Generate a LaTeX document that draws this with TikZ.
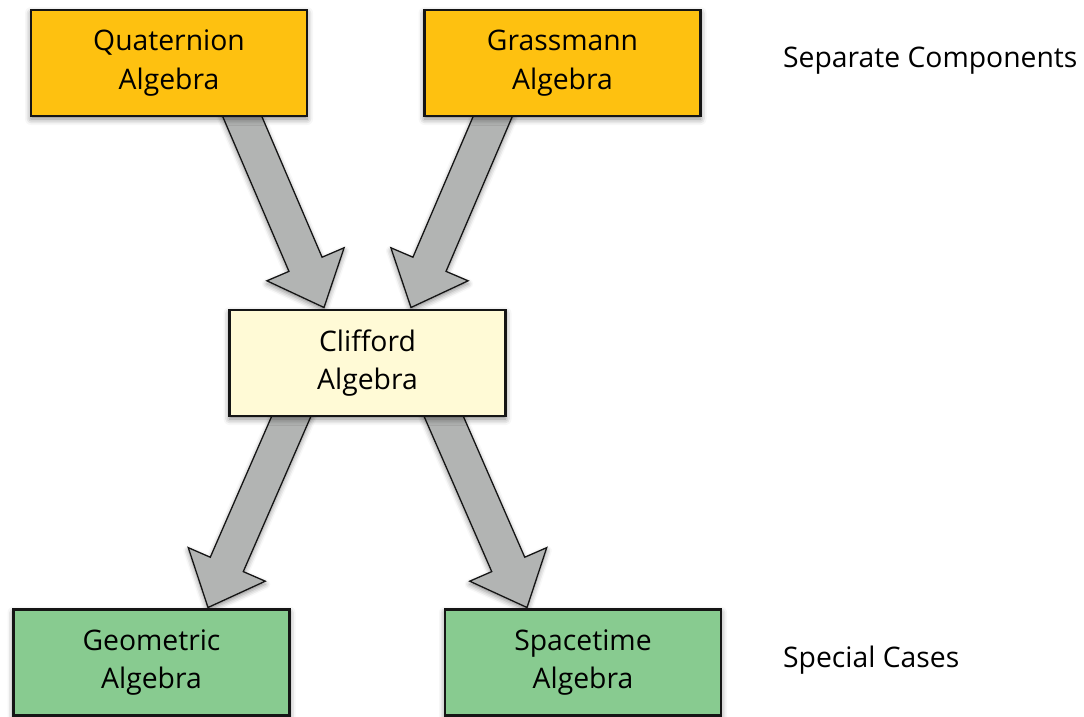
\documentclass[tikz,border=0pt]{standalone}
\usepackage{fontspec}
\setmainfont{Open Sans}
\usetikzlibrary{calc,shadows.blur}
\definecolor{boxorange}{HTML}{FEC110}
\definecolor{boxcream}{HTML}{FFFAD6}
\definecolor{boxgreen}{HTML}{88CB90}
\definecolor{arrgray}{HTML}{B2B4B3}
\definecolor{edge}{HTML}{151515}
\tikzset{
  algbox/.style={draw=edge, line width=2.5pt, minimum width=276pt, minimum height=106pt,
    inner sep=0pt, outer sep=0pt, align=center, font=\fontsize{28.3}{38.5}\selectfont,
    blur shadow={shadow xshift=0pt, shadow yshift=-3pt, shadow blur radius=6pt, shadow opacity=50}},
  sidelabel/.style={anchor=base west, inner sep=0pt, font=\fontsize{28.3}{38}\selectfont},
  blockarr/.style={draw=edge, line width=1.3pt, fill=arrgray, line join=miter,
    blur shadow={shadow xshift=0pt, shadow yshift=-3pt, shadow blur radius=5pt, shadow opacity=45}}
}
\newcommand\blockarrow[2]{%
  \coordinate (bA) at ($#1!-30pt!#2$);
  \coordinate (bB) at #2;
  \coordinate (bN) at ($#2!47pt!#1$);
  \draw[blockarr] ($(bA)!18pt!90:(bB)$) -- ($(bN)!18pt!90:(bB)$) -- ($(bN)!42pt!90:(bB)$)
    -- (bB) -- ($(bN)!42pt!-90:(bB)$) -- ($(bN)!18pt!-90:(bB)$) -- ($(bA)!18pt!-90:(bB)$) -- cycle;
}
\begin{document}
\begin{tikzpicture}[x=1pt,y=-1pt]
\useasboundingbox (0,0) rectangle (1084,717);
\coordinate (quatS) at (169,117);
\coordinate (grassS) at (562.5,117);
\coordinate (cliffN) at (367.5,309);
\coordinate (cliffS) at (367.5,417);
\coordinate (geomN) at (151.5,609);
\coordinate (spaceN) at (583,609);
% arrows (drawn below the boxes)
\coordinate (t1) at ($(quatS)+(73.5,0)$);  \coordinate (h1) at ($(cliffN)+(-43.5,-1.5)$);
\coordinate (t2) at ($(grassS)+(-70,0)$);  \coordinate (h2) at ($(cliffN)+(43.5,-1.5)$);
\coordinate (t3) at ($(cliffS)+(-76.5,0)$); \coordinate (h3) at ($(geomN)+(56.5,-1.5)$);
\coordinate (t4) at ($(cliffS)+(76.5,0)$);  \coordinate (h4) at ($(spaceN)+(-56,-1.5)$);
\blockarrow{(t1)}{(h1)}
\blockarrow{(t2)}{(h2)}
\blockarrow{(t3)}{(h3)}
\blockarrow{(t4)}{(h4)}
% boxes
\node[algbox, fill=boxorange] (quat) at (169,63) {Quaternion\\Algebra};
\node[algbox, fill=boxorange] (grass) at (562.5,63) {Grassmann\\Algebra};
\node[algbox, fill=boxcream] (cliff) at (367.5,363) {Clifford\\Algebra};
\node[algbox, fill=boxgreen] (geom) at (151.5,662.5) {Geometric\\Algebra};
\node[algbox, fill=boxgreen] (space) at (583,662.5) {Spacetime\\Algebra};
% side labels
\node[sidelabel] (seplbl) at (783,67) {Separate Components};
\node[sidelabel] (speclbl) at (783,667) {Special Cases};
\end{tikzpicture}
\end{document}
